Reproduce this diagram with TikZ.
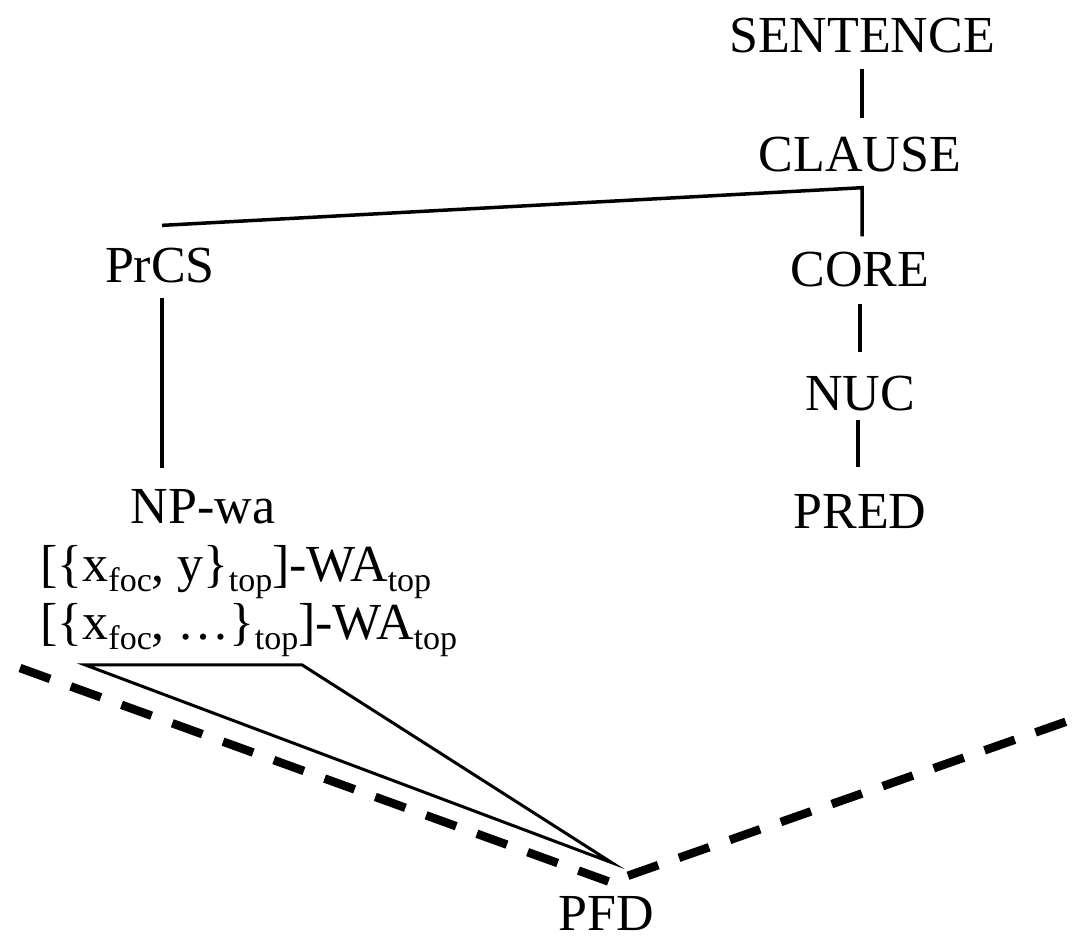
\documentclass[tikz,border=0pt]{standalone}
\usepackage{fontspec}
\setmainfont{Liberation Serif}
\newcommand{\lsub}[1]{\raisebox{-0.2em}{\fontsize{34}{36}\selectfont #1}}
\begin{document}
\begin{tikzpicture}[x=1pt,y=-1pt,
  lab/.style={anchor=base,inner sep=0pt,font=\fontsize{52}{58}\selectfont},
  branch/.style={line width=3.5pt},
  pfdline/.style={line width=8.5pt,dash pattern=on 32pt off 22pt}]
\useasboundingbox (0,0) rectangle (1086,941);

% clause structure
\node[lab] (sentence) at (862,53) {SENTENCE};
\node[lab] (clause)   at (860,172) {CLAUSE};
\node[lab] (prcs)     at (160,282) {PrCS};
\node[lab] (core)     at (860,286) {CORE};
\node[lab] (nuc)      at (860,410) {NUC};
\node[lab] (pred)     at (860,528) {PRED};
\node[lab] (npwa)     at (203,523) {NP-wa};
\node[lab,anchor=base west] (wa1) at (40,581)
  {[\{x\lsub{foc}, y\}\lsub{top}]-WA\lsub{top}};
\node[lab,anchor=base west] (wa2) at (40,639)
  {[\{x\lsub{foc}, \ldots\}\lsub{top}]-WA\lsub{top}};
\node[lab] (pfd) at (606,930) {PFD};

% tree branches
\draw[branch] ([yshift=-15pt]sentence.south) -- ([yshift=19.6pt]clause.north -| sentence.south);
\coordinate (junc) at ([yshift=-15pt]clause.south -| sentence.south);
\draw[branch] ([xshift=2pt,yshift=22pt]prcs.north) -- (junc) -- ([yshift=15pt]core.north -| junc);
\draw[branch] ([xshift=2pt,yshift=-15pt]prcs.south) -- ([xshift=2pt,yshift=21pt]npwa.north -| prcs.south);
\draw[branch] ([yshift=-17pt]core.south) -- ([yshift=23.6pt]nuc.north);
\draw[branch] ([xshift=-2pt,yshift=-9pt]nuc.south) -- ([xshift=-2pt,yshift=26.6pt]pred.north);

% wa-phrase linked to the focus domain
\coordinate (apex) at ([xshift=6pt,yshift=33pt]pfd.north);
\coordinate (vtx)  at ([xshift=6pt,yshift=13pt]pfd.north);
\draw[line width=3pt,line join=miter] ([xshift=45pt,yshift=-8pt]wa2.south west) -- ([xshift=262pt,yshift=-8pt]wa2.south west) -- (apex) -- cycle;

% potential focus domain
\draw[pfdline] (20,668) -- (vtx);
\draw[pfdline] ([xshift=16pt,yshift=7pt]vtx) -- (1068,721);
\end{tikzpicture}
\end{document}
